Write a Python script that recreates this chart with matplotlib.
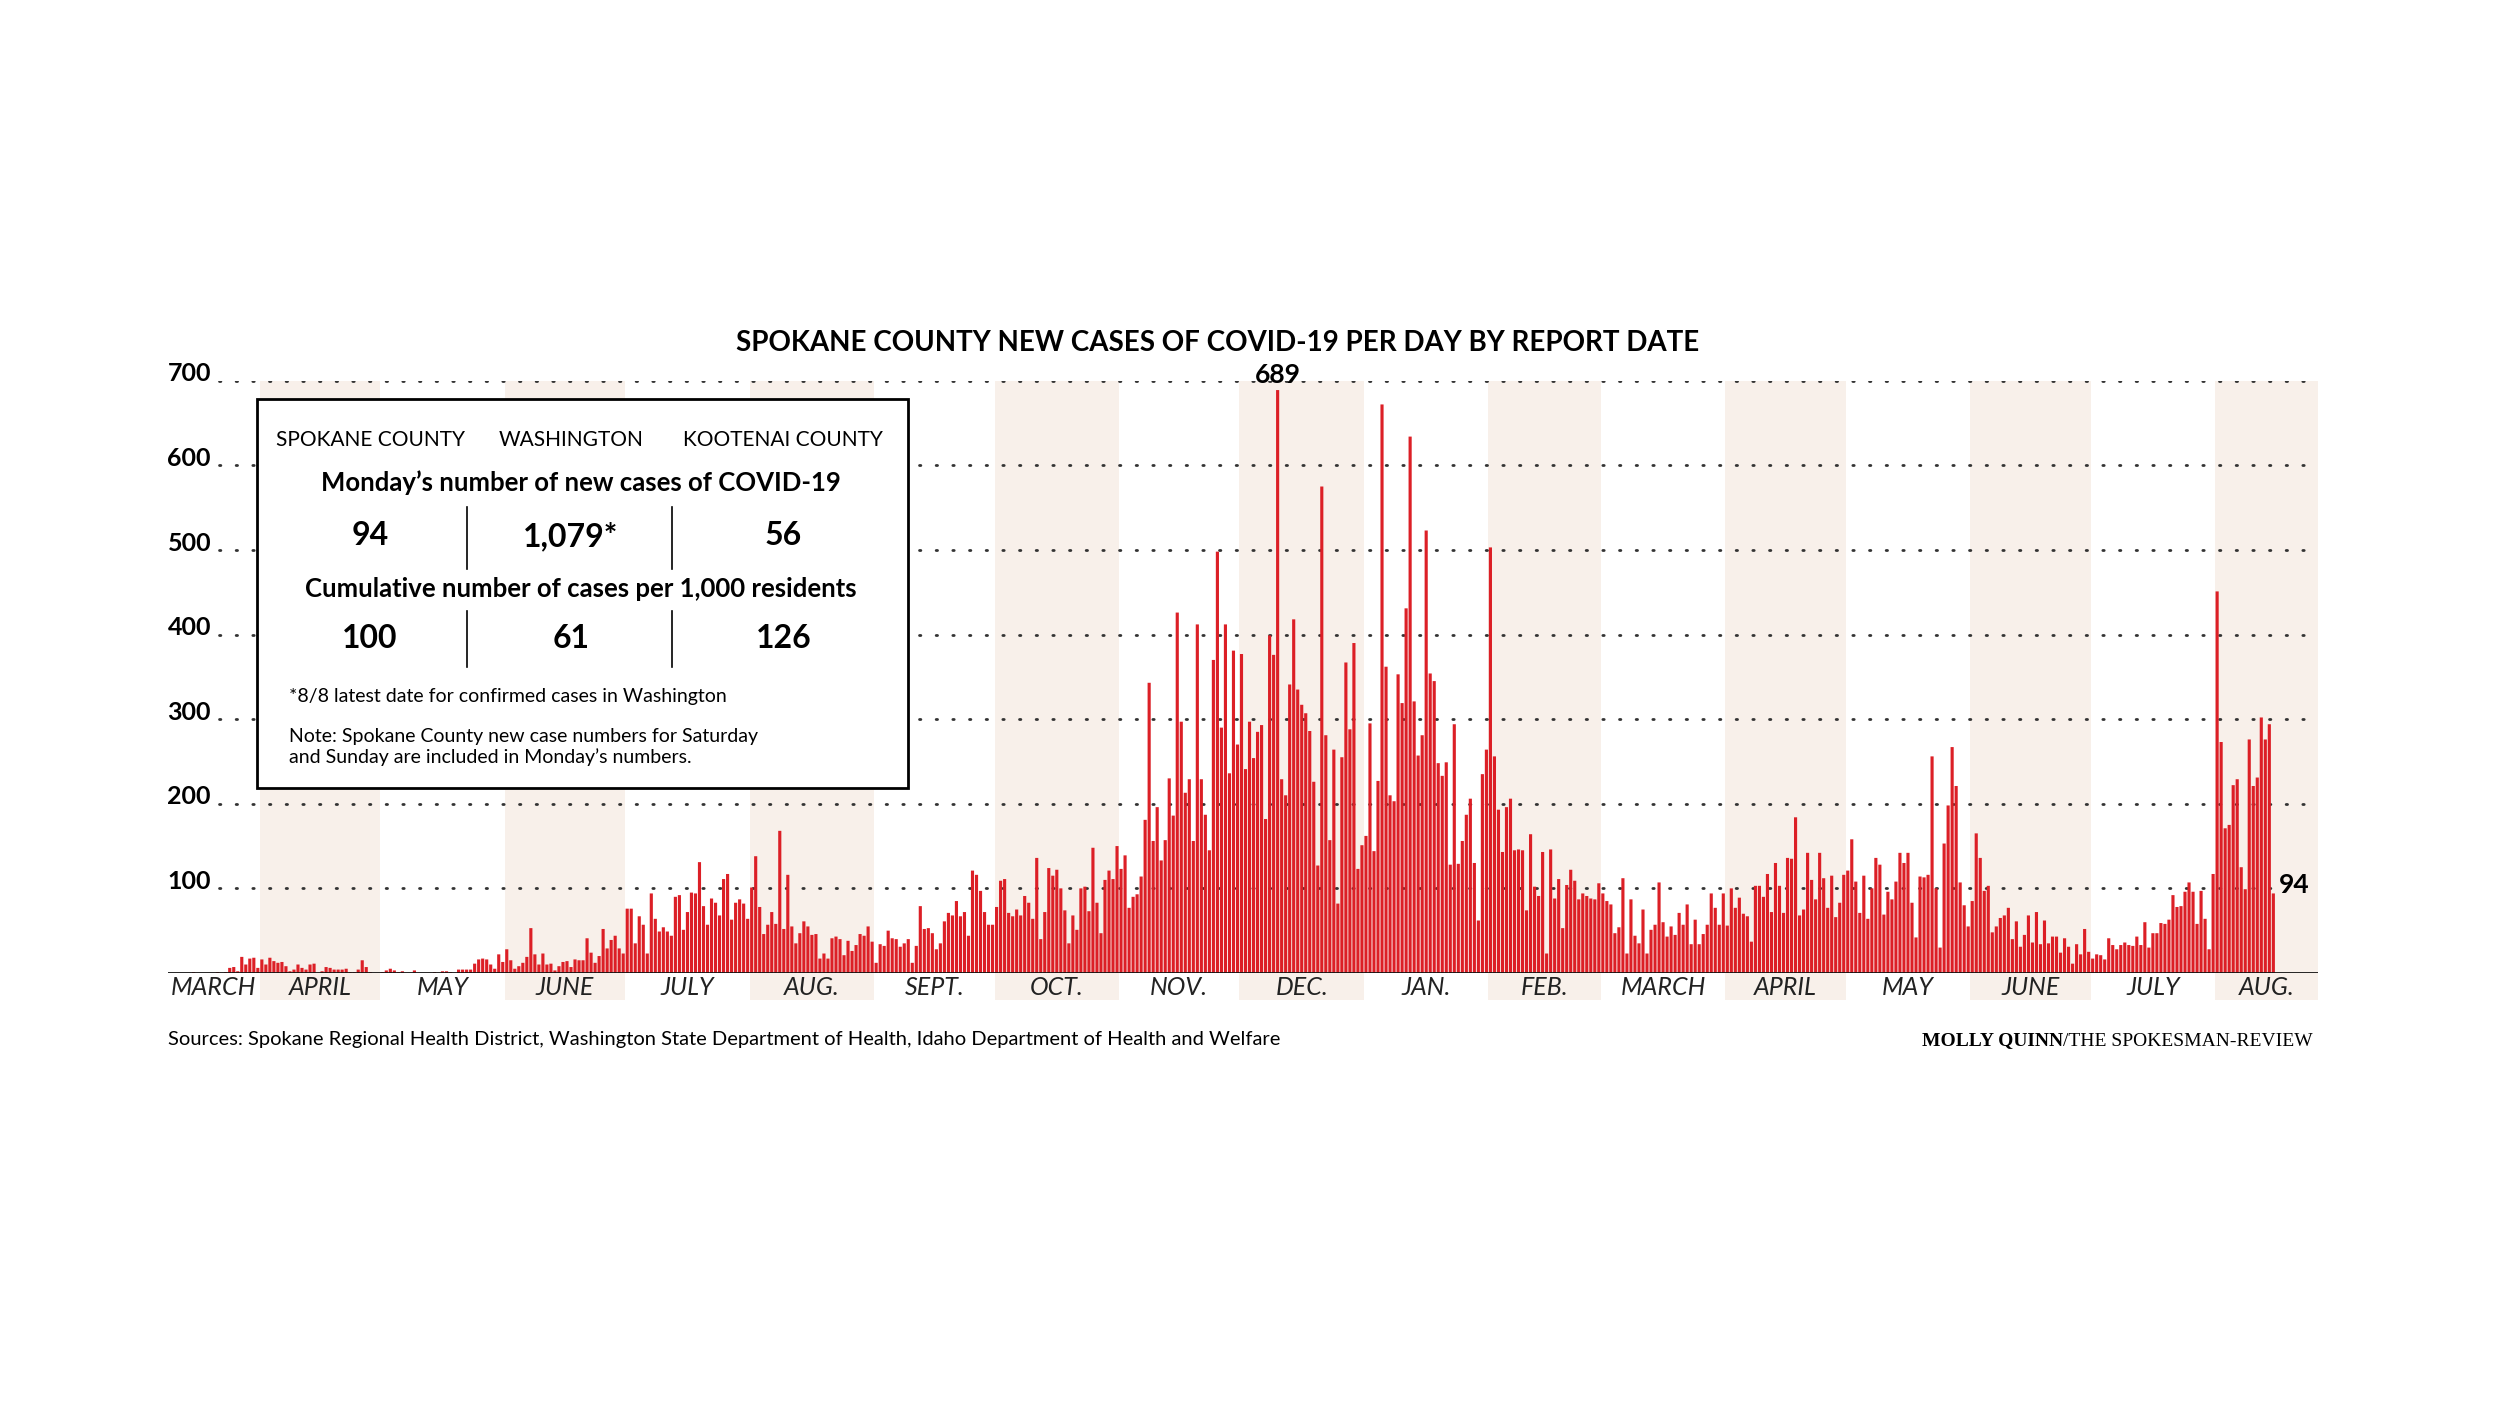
import matplotlib.pyplot as plt
import matplotlib.transforms as mtransforms
from matplotlib.patches import Rectangle
import numpy as np
import pandas as pd

plt.rcParams['font.family'] = ['Lato', 'DejaVu Sans']

# daily new cases, Spokane County; the graphic places the last bar ~mid-August
mar20 = [1, 0, 0, 0, 0, 0, 1, 0, 1, 6, 7, 2, 19, 10, 17, 18, 6, 16, 10]
apr20 = [18, 14, 12, 13, 8, 2, 4, 10, 6, 4, 10, 11, 0, 2, 7, 6, 4, 4, 4, 5, 1, 1, 4, 15, 7, 1, 0, 0, 1, 3]
may20 = [5, 3, 1, 2, 0, 0, 3, 0, 0, 0, 0, 1, 0, 2, 2, 1, 0, 4, 4, 4, 4, 11, 16, 17, 16, 10, 5, 22, 13, 28, 15]
jun20 = [5, 8, 12, 19, 53, 22, 10, 23, 10, 11, 3, 8, 13, 14, 7, 16, 15, 15, 41, 24, 12, 20, 52, 29, 39, 44, 29, 23, 76, 76]
jul20 = [35, 67, 57, 23, 94, 64, 49, 54, 49, 44, 90, 92, 51, 72, 95, 94, 131, 79, 57, 88, 83, 68, 111, 117, 63, 83, 87, 82, 64, 101, 138]
aug20 = [78, 46, 57, 72, 58, 168, 52, 116, 55, 35, 47, 61, 55, 45, 46, 17, 23, 17, 41, 43, 40, 21, 38, 26, 33, 46, 44, 55, 37, 12, 34]
sep20 = [32, 50, 41, 40, 31, 35, 40, 12, 32, 79, 52, 53, 47, 28, 35, 61, 71, 68, 85, 67, 72, 44, 121, 116, 97, 72, 57, 57, 78, 109]
oct20 = [111, 71, 67, 75, 68, 91, 83, 64, 136, 40, 72, 124, 115, 122, 100, 74, 35, 68, 51, 100, 102, 73, 148, 83, 47, 110, 121, 111, 150, 123, 139]
nov20 = [77, 90, 93, 114, 181, 343, 156, 196, 133, 157, 230, 186, 426, 297, 213, 229, 156, 412, 229, 187, 145, 370, 498, 290, 412, 236, 381, 270, 377, 241]
dec20 = [297, 254, 285, 293, 182, 399, 376, 689, 229, 210, 341, 418, 335, 317, 307, 286, 226, 127, 575, 281, 157, 264, 82, 255, 367, 288, 390, 123, 151, 162, 295]
jan21 = [144, 227, 672, 362, 210, 203, 353, 319, 431, 634, 321, 257, 281, 523, 354, 345, 248, 233, 249, 128, 294, 129, 156, 187, 206, 130, 62, 235, 264, 503, 256]
feb21 = [193, 143, 196, 206, 145, 146, 145, 74, 164, 102, 91, 143, 23, 146, 88, 111, 53, 104, 122, 109, 87, 94, 91, 88, 87, 106, 94, 85]
mar21 = [81, 47, 54, 112, 23, 87, 44, 35, 75, 23, 51, 57, 107, 60, 43, 55, 45, 71, 57, 81, 34, 63, 34, 46, 57, 94, 77, 57, 94]
apr21 = [56, 100, 77, 89, 70, 67, 37, 103, 103, 90, 117, 72, 130, 103, 71, 136, 135, 184, 68, 75, 142, 110, 87, 142, 112, 77, 115, 66, 83, 116]
may21 = [121, 158, 108, 71, 115, 64, 100, 136, 128, 69, 96, 87, 108, 142, 130, 142, 83, 42, 114, 113, 116, 256, 100, 30, 153, 198, 267, 221, 107, 80, 55]
jun21 = [85, 165, 136, 97, 103, 48, 55, 65, 68, 77, 40, 61, 31, 45, 68, 36, 72, 34, 62, 35, 43, 43, 24, 41, 31, 11, 34, 22]
jul21 = [52, 25, 17, 22, 21, 16, 41, 33, 28, 33, 36, 33, 32, 43, 33, 60, 30, 47, 47, 59, 58, 63, 92, 78, 79, 96, 107, 96, 58, 97, 64]
aug21 = [28, 117, 451, 273, 171, 175, 222, 229, 125, 99, 276, 221, 231, 302, 276, 294, 94]

cases = mar20 + apr20 + may20 + jun20 + jul20 + aug20 + sep20 + oct20 + nov20 + dec20 + \
    jan21 + feb21 + mar21 + apr21 + may21 + jun21 + jul21 + aug21
end_date = pd.Timestamp('2021-08-15')
dates = pd.date_range(end=end_date, periods=len(cases))

month_starts = pd.date_range('2020-03-01', '2021-09-01', freq='MS')
month_names = ['MARCH', 'APRIL', 'MAY', 'JUNE', 'JULY', 'AUG.', 'SEPT.', 'OCT.', 'NOV.', 'DEC.',
               'JAN.', 'FEB.', 'MARCH', 'APRIL', 'MAY', 'JUNE', 'JULY', 'AUG.']

yticks = [100, 200, 300, 400, 500, 600, 700]

RED = '#dc1f26'
BAND = '#f8f0ea'

fig = plt.figure(figsize=(25, 14.05), dpi=100)
ax = fig.add_axes([0.067, 0.3075, 0.86, 0.4215])

x0 = pd.Timestamp('2020-03-09')
xpos = np.array([(d - x0).days for d in dates])
xmin = -0.5
xmax = (pd.Timestamp('2021-08-26') - x0).days

# month bands and labels
lab_tr = mtransforms.blended_transform_factory(ax.transData, ax.transAxes)
for i, name in enumerate(month_names):
    a = max((month_starts[i] - x0).days - 0.5, xmin)
    b = min((month_starts[i + 1] - x0).days - 0.5, xmax)
    if i % 2 == 1:
        ax.axvspan(a, b, ymin=-0.046, ymax=1.0, color=BAND, zorder=0, clip_on=False, lw=0)
    ax.text((a + b) / 2, -0.025, name, transform=lab_tr,
            ha='center', va='center', fontsize=18, style='italic', color='#222222')

# dotted gridlines + labels
trans = mtransforms.blended_transform_factory(ax.transAxes, ax.transData)
for v in yticks:
    ax.plot([0.024, 1.0], [v, v], transform=trans, color='#333333', lw=2,
            linestyle=(0, (0.5, 5.5)), dash_capstyle='round', zorder=1)
    ax.text(0.0, v + 8, str(v), transform=trans, ha='left', va='center',
            fontsize=18, fontweight='bold')

ax.bar(xpos, cases, width=0.78, color=RED, zorder=2, linewidth=0, snap=False)
ax.axhline(0, color='#111111', lw=2, zorder=3)

imax = int(np.argmax(cases))
ax.text(xpos[imax], cases[imax] + 4, str(cases[imax]), ha='center', va='bottom',
        fontsize=19, fontweight='bold')
ax.text(xpos[-1] + 1.5, cases[-1] + 10, str(cases[-1]), ha='left', va='center',
        fontsize=19, fontweight='bold', zorder=4,
        bbox=dict(facecolor=BAND, edgecolor='none', pad=1))

ax.set_xlim(xmin, xmax)
ax.set_ylim(0, 700)
ax.axis('off')

fig.text(0.487, 0.756, 'SPOKANE COUNTY NEW CASES OF COVID-19 PER DAY BY REPORT DATE',
         ha='center', va='center', fontsize=20, fontweight='bold')

# inset box
bx0, bx1, by0, by1 = 0.1027, 0.3632, 0.439, 0.716
fig.add_artist(Rectangle((bx0, by0), bx1 - bx0, by1 - by0, transform=fig.transFigure,
                         facecolor='white', edgecolor='black', lw=2, zorder=5))
cols = [0.148, 0.2284, 0.3133]
heads = ['SPOKANE COUNTY', 'WASHINGTON', 'KOOTENAI COUNTY']
today = ['94', '1,079*', '56']
cumul = ['100', '61', '126']
fy = lambda py: 1 - py / 1405
for c, h, t, u in zip(cols, heads, today, cumul):
    fig.text(c, fy(440), h, ha='center', va='center', fontsize=15, zorder=6)
    fig.text(c, fy(536), t, ha='center', va='center', fontsize=23, fontweight='bold', zorder=6)
    fig.text(c, fy(638), u, ha='center', va='center', fontsize=23, fontweight='bold', zorder=6)
fig.text(0.2323, fy(483), 'Monday\u2019s number of new cases of COVID-19', ha='center', va='center',
         fontsize=18.5, fontweight='bold', zorder=6)
fig.text(0.2323, fy(589), 'Cumulative number of cases per 1,000 residents', ha='center', va='center',
         fontsize=18.5, fontweight='bold', zorder=6)
for xv in [0.1869, 0.2686]:
    fig.add_artist(plt.Line2D([xv, xv], [fy(569), fy(507)], transform=fig.transFigure,
                              color='black', lw=1.2, zorder=6))
    fig.add_artist(plt.Line2D([xv, xv], [fy(667), fy(611)], transform=fig.transFigure,
                              color='black', lw=1.2, zorder=6))
fig.text(0.1155, fy(697), '*8/8 latest date for confirmed cases in Washington', ha='left', va='center',
         fontsize=14, zorder=6)
fig.text(0.1155, fy(747), 'Note: Spokane County new case numbers for Saturday\nand Sunday are included in Monday\u2019s numbers.',
         ha='left', va='center', fontsize=14, linespacing=1.2, zorder=6)

fig.text(0.067, fy(1040), 'Sources: Spokane Regional Health District, Washington State Department of Health, '
         'Idaho Department of Health and Welfare', ha='left', va='center', fontsize=14.5)
cr = fig.text(0.925, fy(1041), '/THE SPOKESMAN-REVIEW', ha='right', va='center', fontsize=14,
              family='Liberation Serif')
fig.canvas.draw()
bb = cr.get_window_extent().transformed(fig.transFigure.inverted())
fig.text(bb.x0, fy(1041), 'MOLLY QUINN', ha='right', va='center', fontsize=14,
         family='Liberation Serif', fontweight='bold')

fig.savefig('out.png', dpi=100)
